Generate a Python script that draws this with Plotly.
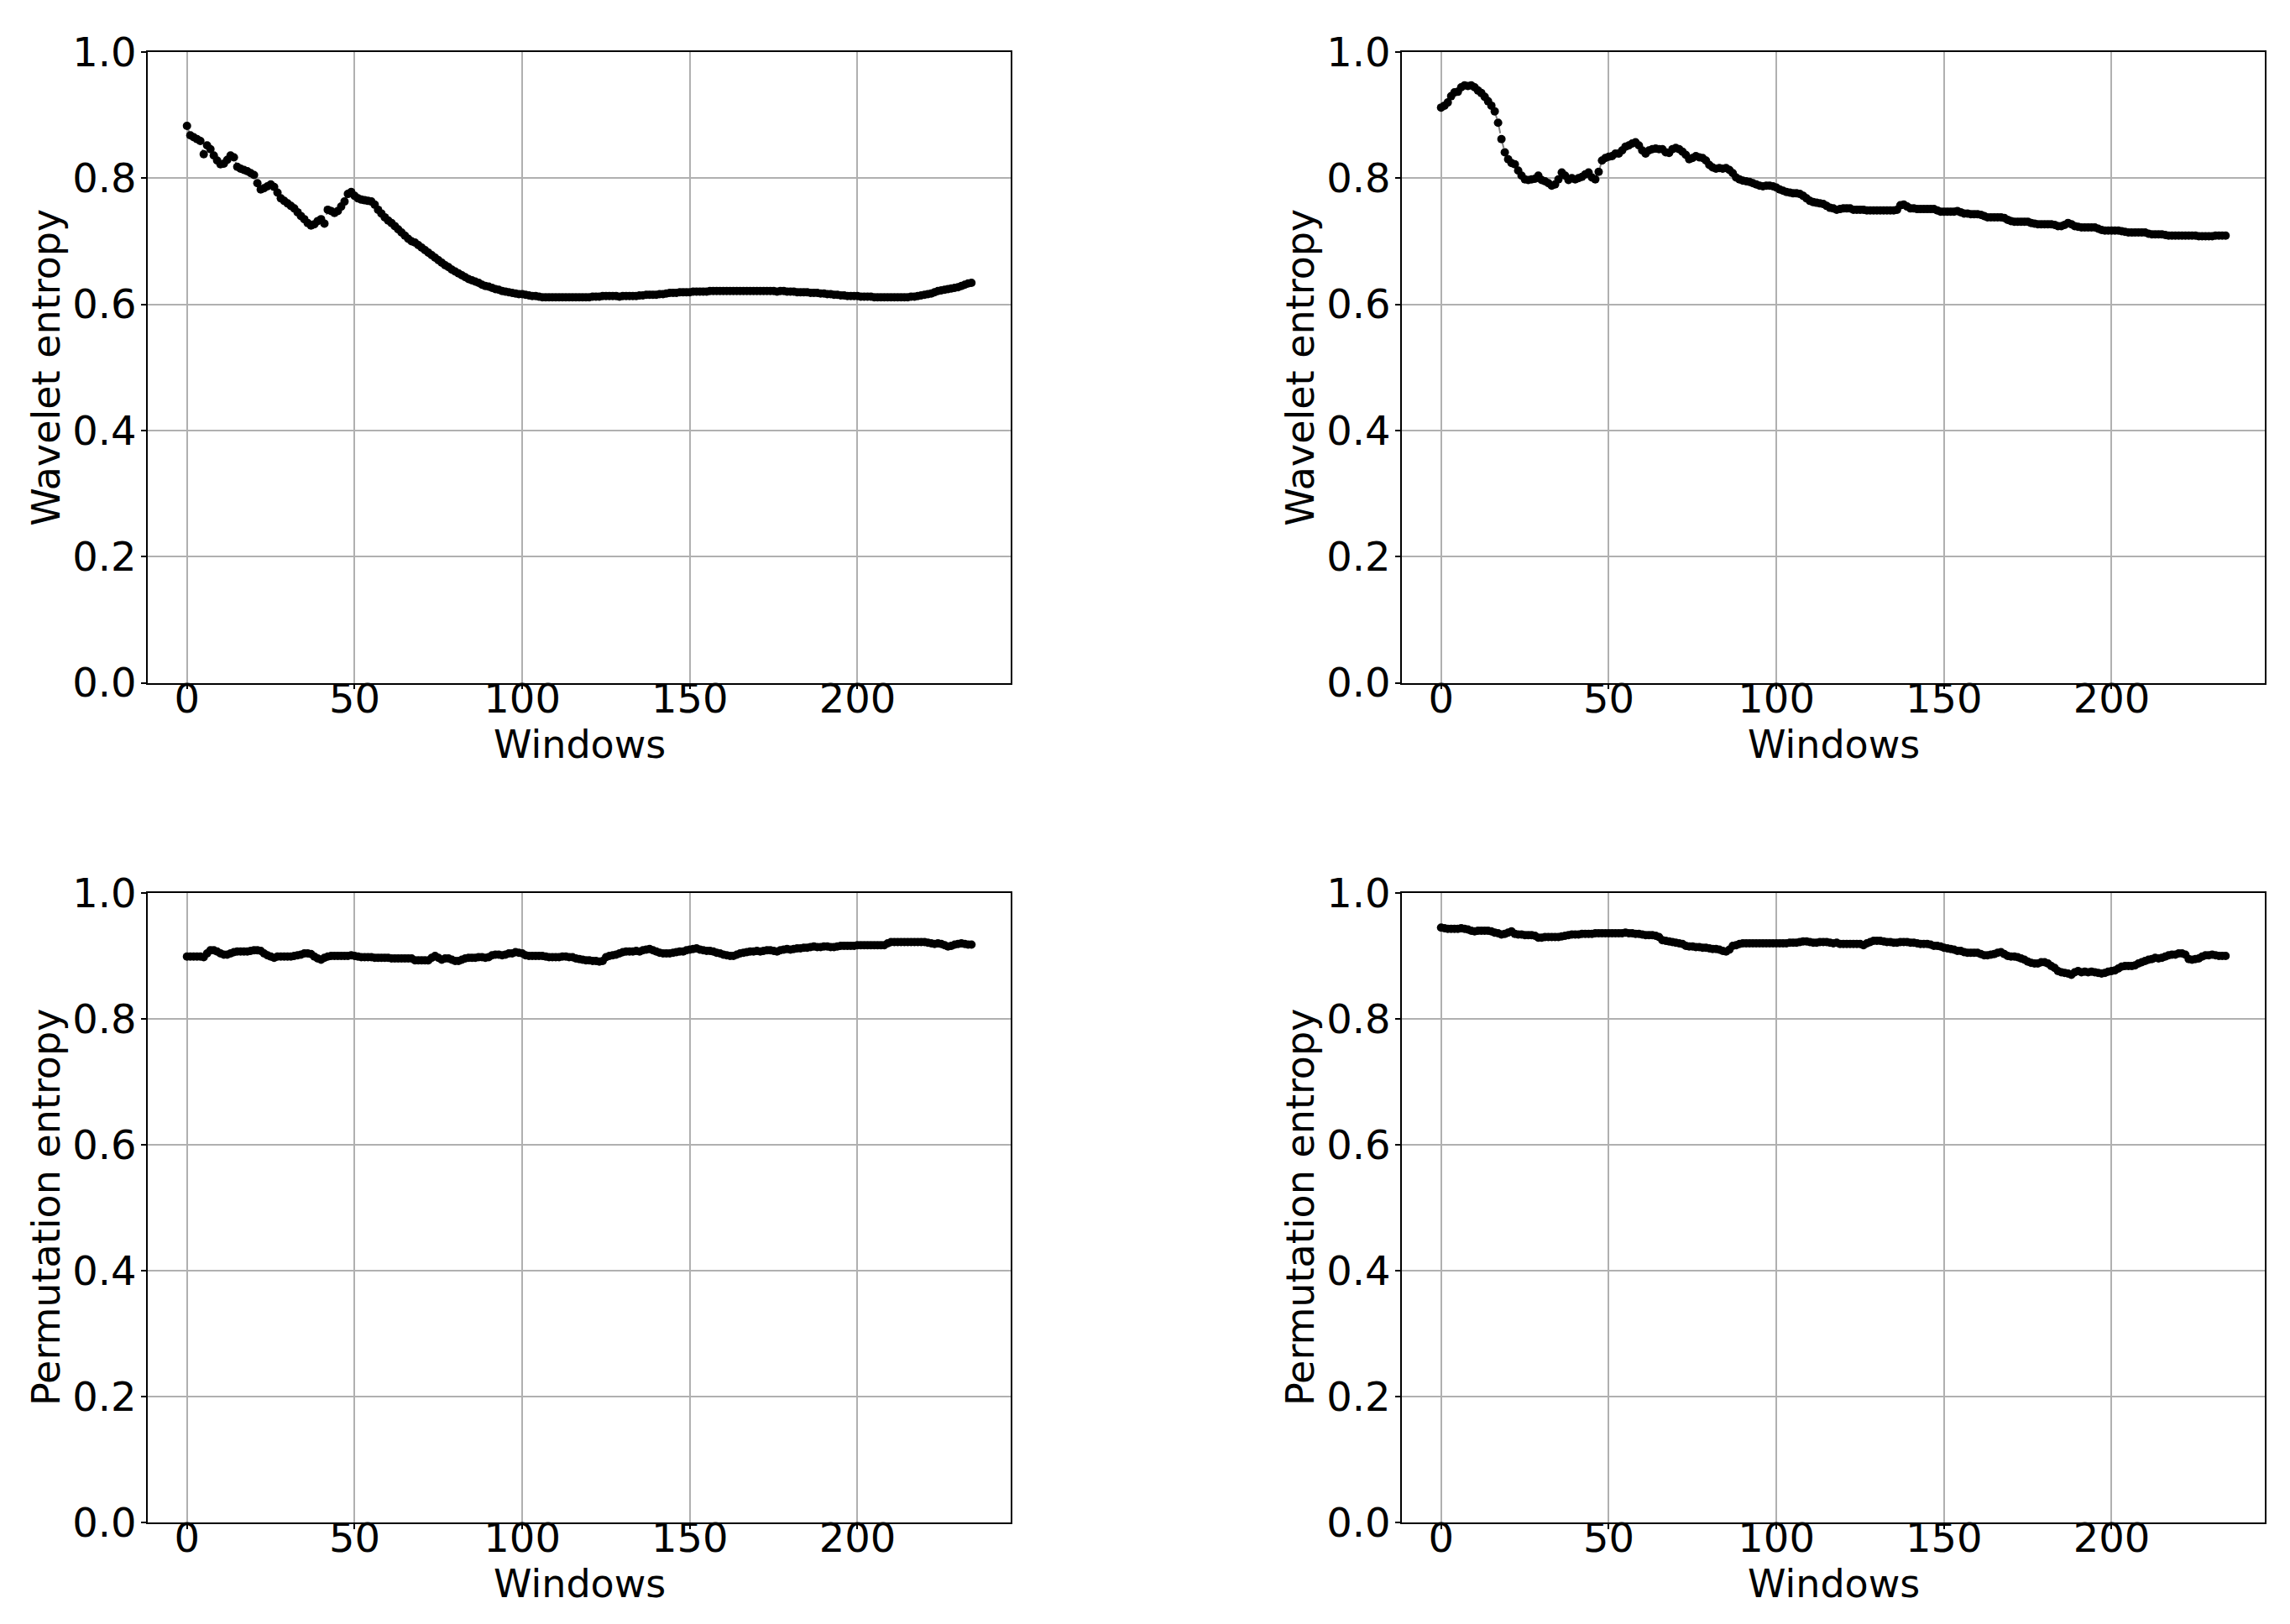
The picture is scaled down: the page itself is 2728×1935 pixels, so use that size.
import plotly.graph_objects as go
from plotly.subplots import make_subplots

windows = list(range(235))

wavelet_entropy_a = [
    0.883, 0.868, 0.865, 0.862, 0.859, 0.838, 0.852, 0.846, 0.836, 0.828,
    0.822, 0.823, 0.829, 0.836, 0.833, 0.818, 0.815, 0.813, 0.811, 0.808,
    0.805, 0.792, 0.782, 0.784, 0.787, 0.790, 0.786, 0.777, 0.768, 0.764,
    0.760, 0.756, 0.752, 0.746, 0.740, 0.735, 0.729, 0.725, 0.727, 0.732,
    0.735, 0.728, 0.750, 0.748, 0.745, 0.748, 0.755, 0.763, 0.775, 0.778,
    0.772, 0.768, 0.766, 0.765, 0.764, 0.763, 0.758, 0.750, 0.744, 0.738,
    0.733, 0.729, 0.724, 0.719, 0.714, 0.709, 0.704, 0.700, 0.698, 0.694,
    0.690, 0.686, 0.682, 0.678, 0.674, 0.670, 0.666, 0.662, 0.659, 0.655,
    0.652, 0.649, 0.646, 0.643, 0.640, 0.638, 0.636, 0.634, 0.631, 0.629,
    0.628, 0.626, 0.624, 0.623, 0.621, 0.620, 0.619, 0.618, 0.617, 0.616,
    0.616, 0.615, 0.614, 0.613, 0.613, 0.612, 0.611, 0.611, 0.611, 0.611,
    0.611, 0.611, 0.611, 0.611, 0.611, 0.611, 0.611, 0.611, 0.611, 0.611,
    0.611, 0.612, 0.612, 0.612, 0.613, 0.613, 0.613, 0.613, 0.613, 0.612,
    0.613, 0.613, 0.613, 0.613, 0.613, 0.614, 0.614, 0.615, 0.615, 0.615,
    0.615, 0.616, 0.616, 0.617, 0.618, 0.618, 0.618, 0.619, 0.619, 0.619,
    0.619, 0.620, 0.620, 0.620, 0.620, 0.620, 0.621, 0.621, 0.621, 0.621,
    0.621, 0.621, 0.621, 0.621, 0.621, 0.621, 0.621, 0.621, 0.621, 0.621,
    0.621, 0.621, 0.621, 0.621, 0.621, 0.621, 0.620, 0.621, 0.621, 0.620,
    0.620, 0.620, 0.619, 0.619, 0.619, 0.619, 0.618, 0.618, 0.618, 0.617,
    0.617, 0.616, 0.616, 0.615, 0.615, 0.614, 0.614, 0.613, 0.613, 0.613,
    0.613, 0.612, 0.612, 0.612, 0.612, 0.611, 0.611, 0.611, 0.611, 0.611,
    0.611, 0.611, 0.611, 0.611, 0.611, 0.611, 0.612, 0.612, 0.613, 0.614,
    0.615, 0.616, 0.617, 0.619, 0.621, 0.622, 0.623, 0.624, 0.625, 0.626,
    0.627, 0.629, 0.631, 0.633, 0.634,
]

wavelet_entropy_b = [
    0.912, 0.915, 0.920, 0.930, 0.936, 0.937, 0.944, 0.947, 0.946, 0.947,
    0.944, 0.939, 0.935, 0.929, 0.922, 0.915, 0.906, 0.888, 0.862, 0.841,
    0.830, 0.824, 0.822, 0.812, 0.804, 0.798, 0.797, 0.798, 0.799, 0.804,
    0.797, 0.795, 0.792, 0.788, 0.790, 0.798, 0.809, 0.804, 0.797, 0.800,
    0.798, 0.800, 0.802, 0.806, 0.809, 0.801, 0.798, 0.810, 0.828, 0.832,
    0.834, 0.835, 0.839, 0.839, 0.844, 0.850, 0.852, 0.855, 0.857, 0.852,
    0.844, 0.839, 0.844, 0.846, 0.847, 0.846, 0.846, 0.841, 0.840, 0.846,
    0.848, 0.846, 0.842, 0.837, 0.830, 0.832, 0.835, 0.833, 0.832, 0.828,
    0.821, 0.817, 0.815, 0.816, 0.815, 0.816, 0.813, 0.808, 0.801, 0.798,
    0.796, 0.795, 0.794, 0.792, 0.790, 0.788, 0.787, 0.788, 0.788, 0.787,
    0.785, 0.782, 0.780, 0.778, 0.777, 0.776, 0.776, 0.775, 0.772, 0.768,
    0.764, 0.762, 0.761, 0.760, 0.759, 0.756, 0.753, 0.752, 0.750, 0.751,
    0.752, 0.752, 0.752, 0.750, 0.750, 0.750, 0.750, 0.749, 0.749, 0.749,
    0.749, 0.749, 0.749, 0.749, 0.749, 0.749, 0.750, 0.757, 0.758, 0.755,
    0.752, 0.752, 0.751, 0.751, 0.751, 0.751, 0.751, 0.751, 0.749, 0.747,
    0.747, 0.747, 0.747, 0.747, 0.748, 0.746, 0.744, 0.744, 0.743, 0.743,
    0.743, 0.742, 0.740, 0.738, 0.738, 0.738, 0.738, 0.738, 0.737, 0.734,
    0.732, 0.731, 0.731, 0.731, 0.731, 0.731, 0.729, 0.728, 0.727, 0.727,
    0.727, 0.727, 0.727, 0.726, 0.724, 0.724, 0.726, 0.729, 0.727, 0.724,
    0.723, 0.722, 0.722, 0.722, 0.722, 0.722, 0.720, 0.718, 0.717, 0.717,
    0.717, 0.717, 0.717, 0.716, 0.715, 0.714, 0.714, 0.714, 0.714, 0.714,
    0.714, 0.712, 0.711, 0.711, 0.711, 0.711, 0.710, 0.709, 0.709, 0.709,
    0.709, 0.709, 0.709, 0.709, 0.709, 0.709, 0.708, 0.708, 0.708, 0.708,
    0.708, 0.709, 0.709, 0.709, 0.709,
]

permutation_entropy_a = [
    0.899, 0.899, 0.899, 0.899, 0.899, 0.898, 0.904, 0.909, 0.909, 0.907,
    0.904, 0.902, 0.902, 0.904, 0.906, 0.907, 0.907, 0.907, 0.907, 0.908,
    0.909, 0.909, 0.908, 0.904, 0.901, 0.899, 0.897, 0.899, 0.899, 0.899,
    0.899, 0.899, 0.900, 0.901, 0.902, 0.904, 0.904, 0.903, 0.899, 0.896,
    0.894, 0.897, 0.899, 0.900, 0.900, 0.900, 0.900, 0.900, 0.900, 0.901,
    0.900, 0.899, 0.898, 0.898, 0.898, 0.898, 0.897, 0.897, 0.897, 0.897,
    0.897, 0.896, 0.896, 0.896, 0.896, 0.896, 0.896, 0.896, 0.893, 0.893,
    0.893, 0.893, 0.893, 0.897, 0.900, 0.897, 0.894, 0.896, 0.896, 0.894,
    0.892, 0.892, 0.894, 0.896, 0.897, 0.897, 0.897, 0.898, 0.898, 0.897,
    0.898, 0.901, 0.902, 0.902, 0.901, 0.902, 0.904, 0.904, 0.906, 0.905,
    0.904, 0.901, 0.900, 0.900, 0.900, 0.900, 0.900, 0.899, 0.898, 0.898,
    0.898, 0.898, 0.899, 0.899, 0.898, 0.898, 0.896, 0.895, 0.894, 0.893,
    0.893, 0.892, 0.892, 0.891, 0.892, 0.898, 0.900, 0.901, 0.902, 0.904,
    0.906, 0.907, 0.907, 0.907, 0.908, 0.907, 0.909, 0.910, 0.911, 0.909,
    0.907, 0.905, 0.904, 0.904, 0.904, 0.905, 0.906, 0.907, 0.907, 0.909,
    0.910, 0.911, 0.912, 0.910, 0.909, 0.908, 0.908, 0.907, 0.905, 0.904,
    0.902, 0.901, 0.900, 0.900, 0.902, 0.904, 0.905, 0.906, 0.907, 0.907,
    0.908, 0.907, 0.908, 0.909, 0.909, 0.908, 0.907, 0.909, 0.910, 0.911,
    0.910, 0.911, 0.912, 0.912, 0.913, 0.913, 0.914, 0.915, 0.914, 0.914,
    0.915, 0.915, 0.914, 0.914, 0.915, 0.916, 0.916, 0.916, 0.916, 0.916,
    0.917, 0.917, 0.917, 0.917, 0.917, 0.917, 0.917, 0.917, 0.917, 0.920,
    0.922, 0.922, 0.922, 0.922, 0.922, 0.922, 0.922, 0.922, 0.922, 0.922,
    0.922, 0.921, 0.920, 0.919, 0.920, 0.919, 0.917, 0.915, 0.916, 0.918,
    0.919, 0.920, 0.919, 0.918, 0.918,
]

permutation_entropy_b = [
    0.945, 0.944, 0.943, 0.943, 0.943, 0.943, 0.944, 0.943, 0.942, 0.940,
    0.939, 0.940, 0.940, 0.940, 0.940, 0.939, 0.937, 0.936, 0.934, 0.935,
    0.937, 0.939, 0.935, 0.934, 0.934, 0.933, 0.933, 0.933, 0.932, 0.929,
    0.929, 0.930, 0.930, 0.930, 0.930, 0.930, 0.931, 0.932, 0.933, 0.934,
    0.934, 0.934, 0.935, 0.935, 0.935, 0.935, 0.936, 0.936, 0.936, 0.936,
    0.936, 0.936, 0.936, 0.936, 0.936, 0.937, 0.936, 0.936, 0.935, 0.935,
    0.934, 0.933, 0.933, 0.933, 0.932, 0.930, 0.925, 0.924, 0.923, 0.922,
    0.921, 0.920, 0.919, 0.916, 0.915, 0.915, 0.914, 0.914, 0.913, 0.913,
    0.912, 0.911, 0.911, 0.910, 0.908, 0.907, 0.910, 0.916, 0.917, 0.919,
    0.920, 0.920, 0.920, 0.920, 0.920, 0.920, 0.920, 0.920, 0.920, 0.920,
    0.920, 0.920, 0.920, 0.920, 0.921, 0.921, 0.921, 0.922, 0.923, 0.923,
    0.922, 0.921, 0.921, 0.922, 0.922, 0.922, 0.921, 0.920, 0.921, 0.919,
    0.919, 0.919, 0.919, 0.919, 0.919, 0.919, 0.917, 0.920, 0.922, 0.924,
    0.924, 0.924, 0.923, 0.922, 0.922, 0.921, 0.921, 0.922, 0.922, 0.922,
    0.921, 0.921, 0.920, 0.919, 0.919, 0.919, 0.918, 0.916, 0.916, 0.915,
    0.913, 0.912, 0.911, 0.910, 0.908, 0.908, 0.906, 0.905, 0.905, 0.905,
    0.905, 0.903, 0.901, 0.901, 0.902, 0.903, 0.905, 0.906, 0.903, 0.900,
    0.899, 0.899, 0.898, 0.896, 0.894, 0.891, 0.889, 0.888, 0.888, 0.890,
    0.890, 0.888, 0.884, 0.881, 0.876, 0.874, 0.873, 0.872, 0.870, 0.874,
    0.876, 0.874, 0.875, 0.874, 0.875, 0.874, 0.873, 0.872, 0.873, 0.875,
    0.876, 0.877, 0.880, 0.883, 0.884, 0.884, 0.884, 0.885, 0.888, 0.890,
    0.892, 0.894, 0.895, 0.897, 0.896, 0.897, 0.899, 0.901, 0.902, 0.902,
    0.904, 0.904, 0.902, 0.895, 0.894, 0.895, 0.896, 0.899, 0.901, 0.901,
    0.902, 0.901, 0.900, 0.900, 0.900,
]

x_ticks = [0, 50, 100, 150, 200]
y_ticks = [0.0, 0.2, 0.4, 0.6, 0.8, 1.0]
x_title = "Windows"
y_titles = ["Wavelet entropy", "Wavelet entropy", "Permutation entropy", "Permutation entropy"]
series = [wavelet_entropy_a, wavelet_entropy_b, permutation_entropy_a, permutation_entropy_b]

W, H = 2728, 1935
FONT = "DejaVu Sans"
TICK_FS = 48
TITLE_FS = 46

fig = make_subplots(rows=2, cols=2)

positions = [(1, 1), (1, 2), (2, 1), (2, 2)]
for (r, c), ys in zip(positions, series):
    fig.add_trace(
        go.Scatter(
            x=windows, y=ys, mode="lines+markers",
            line=dict(color="#808080", width=2, dash="dash"),
            marker=dict(color="black", size=10, line=dict(width=0)),
            showlegend=False,
        ),
        row=r, col=c,
    )

# pixel geometry of the plot areas
x_doms = [(168, 1196), (1662, 2690)]
y_doms = [(54, 805.5), (1056, 1806)]

annotations = []
for i, (r, c) in enumerate(positions):
    xd = x_doms[c - 1]
    yd = y_doms[r - 1]
    fig.update_xaxes(
        domain=[xd[0] / W, xd[1] / W],
        range=[-11.7, 245.7],
        tickvals=x_ticks,
        ticktext=[str(v) for v in x_ticks],
        ticklabelstandoff=-30,
        row=r, col=c,
    )
    fig.update_yaxes(
        domain=[1 - yd[1] / H, 1 - yd[0] / H],
        range=[0, 1],
        tickvals=y_ticks,
        ticktext=[f"{v:.1f}" for v in y_ticks],
        ticklabelstandoff=-4,
        row=r, col=c,
    )
    # x-axis title
    annotations.append(dict(
        text=x_title, xref="paper", yref="paper",
        x=(xd[0] + xd[1]) / 2 / W, y=1 - (yd[1] + 73) / H,
        xanchor="center", yanchor="middle", showarrow=False,
        font=dict(family=FONT, size=TITLE_FS, color="black"),
    ))
    # y-axis title
    annotations.append(dict(
        text=y_titles[i], xref="paper", yref="paper",
        x=(xd[0] - 121) / W, y=1 - (yd[0] + yd[1]) / 2 / H,
        xanchor="center", yanchor="middle", showarrow=False, textangle=-90,
        font=dict(family=FONT, size=TITLE_FS, color="black"),
    ))

common = dict(
    showgrid=True, gridcolor="#b0b0b0", gridwidth=1.5,
    showline=True, linecolor="black", linewidth=1.5, mirror=True,
    ticks="outside", ticklen=6, tickwidth=1.5, tickcolor="black",
    zeroline=False, automargin=False,
    tickfont=dict(family=FONT, size=TICK_FS, color="black"),
)
fig.update_xaxes(**common)
fig.update_yaxes(**common)

fig.update_layout(
    width=W, height=H,
    margin=dict(l=0, r=0, t=0, b=0),
    paper_bgcolor="white", plot_bgcolor="white",
    font=dict(family=FONT, size=TICK_FS, color="black"),
    showlegend=False,
    annotations=annotations,
)

fig.write_html("out.html")
